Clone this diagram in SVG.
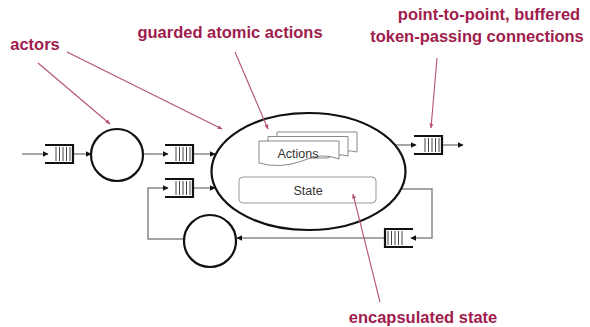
<svg xmlns="http://www.w3.org/2000/svg" width="590" height="327" viewBox="0 0 590 327">
<style>
.lbl{font-family:"Liberation Sans",Arial,sans-serif;font-weight:bold;font-size:16.5px;fill:#a01c4c;text-anchor:middle}
.in{font-family:"Liberation Sans",Arial,sans-serif;font-size:12.5px;fill:#333;text-anchor:middle}
.conn{fill:none;stroke:#888;stroke-width:1.5}
.call{fill:none;stroke:#b4507a;stroke-width:1.1}
.node{fill:#fff;stroke:#111;stroke-width:2.2}
.doc{fill:#fff;stroke:#888;stroke-width:1}
.qo{fill:none;stroke:#111;stroke-width:2.2}
.qi{stroke:#444;stroke-width:1}
</style>
<defs>
<marker id="ah" viewBox="0 0 10 10" refX="9" refY="5" markerWidth="6" markerHeight="6" markerUnits="userSpaceOnUse" orient="auto">
<path d="M0,0 L10,5 L0,10 Z" fill="#111"/>
</marker>
<marker id="ch" viewBox="0 0 10 10" refX="9" refY="5" markerWidth="5" markerHeight="5" markerUnits="userSpaceOnUse" orient="auto">
<path d="M0,1 L10,5 L0,9 Z" fill="#b4507a"/>
</marker>
<g id="q">
<path class="qo" d="M0,0 H28 V18 H0"/>
<path class="qi" d="M11,2 V16 M14.5,2 V16 M18,2 V16 M21.5,2 V16 M25,2 V16"/>
</g>
</defs>
<rect width="590" height="327" fill="#fff"/>

<g id="connectors">
<path class="conn" d="M22,154 H48" marker-end="url(#ah)"/>
<path class="conn" d="M73,154 H91" marker-end="url(#ah)"/>
<path class="conn" d="M143,154 H168" marker-end="url(#ah)"/>
<path class="conn" d="M193,154 H215" marker-end="url(#ah)"/>
<path class="conn" d="M193,188 H215" marker-end="url(#ah)"/>
<path class="conn" d="M395,145 H416" marker-end="url(#ah)"/>
<path class="conn" d="M442,145 H463" marker-end="url(#ah)"/>
<path class="conn" d="M401,189 H432 V238 H411" marker-end="url(#ah)"/>
<path class="conn" d="M384,238 H237" marker-end="url(#ah)"/>
<path class="conn" d="M184,239 H148 V188 H168" marker-end="url(#ah)"/>
</g>

<g id="queue-in"><use href="#q" x="45" y="145"/></g>
<g id="actor-1"><circle class="node" cx="117" cy="155" r="26"/></g>
<g id="queue-2"><use href="#q" x="165" y="145"/></g>
<g id="queue-3"><use href="#q" x="165" y="179"/></g>
<g id="actor-main">
<ellipse class="node" cx="308.5" cy="171.5" rx="97" ry="58.5"/>
<path class="doc" d="M277,132 H357 V152 Q345,149 337,154 L337,154 H277 Z"/>
<path class="doc" d="M268,136.5 H348 V156 Q336,153 328,158 H268 Z"/>
<path class="doc" d="M259,141 H339 V159 Q322,152 302,161 Q280,169 259,163 Z"/>
<text class="in" x="298" y="157.5">Actions</text>
<rect x="239" y="177" width="137" height="26" rx="4" fill="#fff" stroke="#999" stroke-width="1"/>
<text class="in" x="308" y="195">State</text>
</g>
<g id="queue-out"><use href="#q" x="414" y="136"/></g>
<g id="queue-5"><use href="#q" transform="translate(413,229) scale(-1,1)"/></g>
<g id="actor-2"><circle class="node" cx="210" cy="241" r="26"/></g>

<g id="callouts">
<path class="call" d="M38,63 L110,124" marker-end="url(#ch)"/>
<path class="call" d="M67,52 L222,129" marker-end="url(#ch)"/>
<path class="call" d="M235,52 L268,129" marker-end="url(#ch)"/>
<path class="call" d="M437,58 L431,128" marker-end="url(#ch)"/>
<path class="call" d="M380,302 L353,194" marker-end="url(#ch)"/>
</g>

<g id="labels">
<text class="lbl" x="35" y="50">actors</text>
<text class="lbl" x="230" y="38">guarded atomic actions</text>
<text class="lbl" x="489" y="20">point-to-point, buffered</text>
<text class="lbl" x="477" y="42">token-passing connections</text>
<text class="lbl" x="423" y="323">encapsulated state</text>
</g>
</svg>
